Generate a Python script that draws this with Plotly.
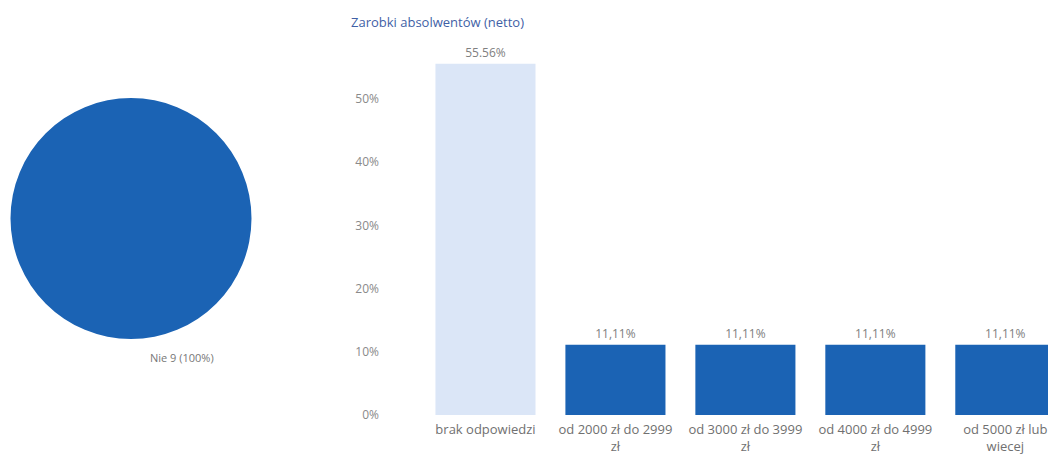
import plotly.graph_objects as go

OFF = 8  # page body margin: the figure is drawn 8px in from the top-left corner
W, H = 1056 - OFF, 455 - OFF

pie_labels = ["Nie"]
pie_values = [9]
pie_label_text = "Nie 9 (100%)"

categories = ["brak odpowiedzi", "od 2000 zł do 2999<br>zł", "od 3000 zł do 3999<br>zł",
              "od 4000 zł do 4999<br>zł", "od 5000 zł lub<br>wiecej"]
values = [55.56, 11.11, 11.11, 11.11, 11.11]
bar_text = ["55.56%", "11,11%", "11,11%", "11,11%", "11,11%"]
y_ticks = [0, 10, 20, 30, 40, 50]
title_text = "Zarobki absolwentów (netto)"

dark = "#1b63b4"
light = "#dbe6f7"
bar_colors = [light, dark, dark, dark, dark]
FONT = "Open Sans, Noto Sans, sans-serif"


def px(x):
    return (x - OFF) / W


def py(y):
    return (H - (y - OFF)) / H


fig = go.Figure()
fig.add_trace(go.Pie(
    labels=pie_labels, values=pie_values, textinfo="none", sort=False,
    marker=dict(colors=[dark], line=dict(width=0)),
    domain=dict(x=[px(10), px(252)], y=[py(339), py(98)]),
    showlegend=False, hoverinfo="label+value+percent",
))
fig.add_trace(go.Bar(
    x=categories, y=values, text=bar_text, textposition="outside",
    textfont=dict(size=12, color="#808080", family=FONT),
    marker=dict(color=bar_colors, line=dict(width=0)),
    width=0.77, cliponaxis=True, showlegend=False,
))

fig.update_layout(
    width=W, height=H, margin=dict(l=0, r=0, t=0, b=0, autoexpand=False),
    paper_bgcolor="white", plot_bgcolor="white",
    font=dict(family=FONT, size=11, color="#777777"),
    xaxis=dict(domain=[px(420.5), 1], range=[-0.5, 4.39], showgrid=False,
               zeroline=False, showline=False, ticks="", automargin=False,
               ticklabelstandoff=5,
               tickfont=dict(size=13, color="#707070")),
    yaxis=dict(domain=[py(415), py(35.8)], range=[0, 60],
               tickvals=y_ticks, ticktext=[f"{t}%" for t in y_ticks],
               showgrid=False, zeroline=False, showline=False, ticks="",
               anchor="free", position=px(379), automargin=False,
               tickfont=dict(size=12, color="#8a8a8a")),
    annotations=[
        dict(text=title_text, x=px(349), y=py(22), xref="paper", yref="paper",
             xanchor="left", yanchor="middle", showarrow=False,
             font=dict(size=13, color="#3f5fa6", family=FONT)),
        dict(text=pie_label_text, x=px(182), y=py(357), xref="paper", yref="paper",
             xanchor="center", yanchor="middle", showarrow=False,
             font=dict(size=11, color="#777777", family=FONT)),
    ],
)

fig.write_html("out.html")
